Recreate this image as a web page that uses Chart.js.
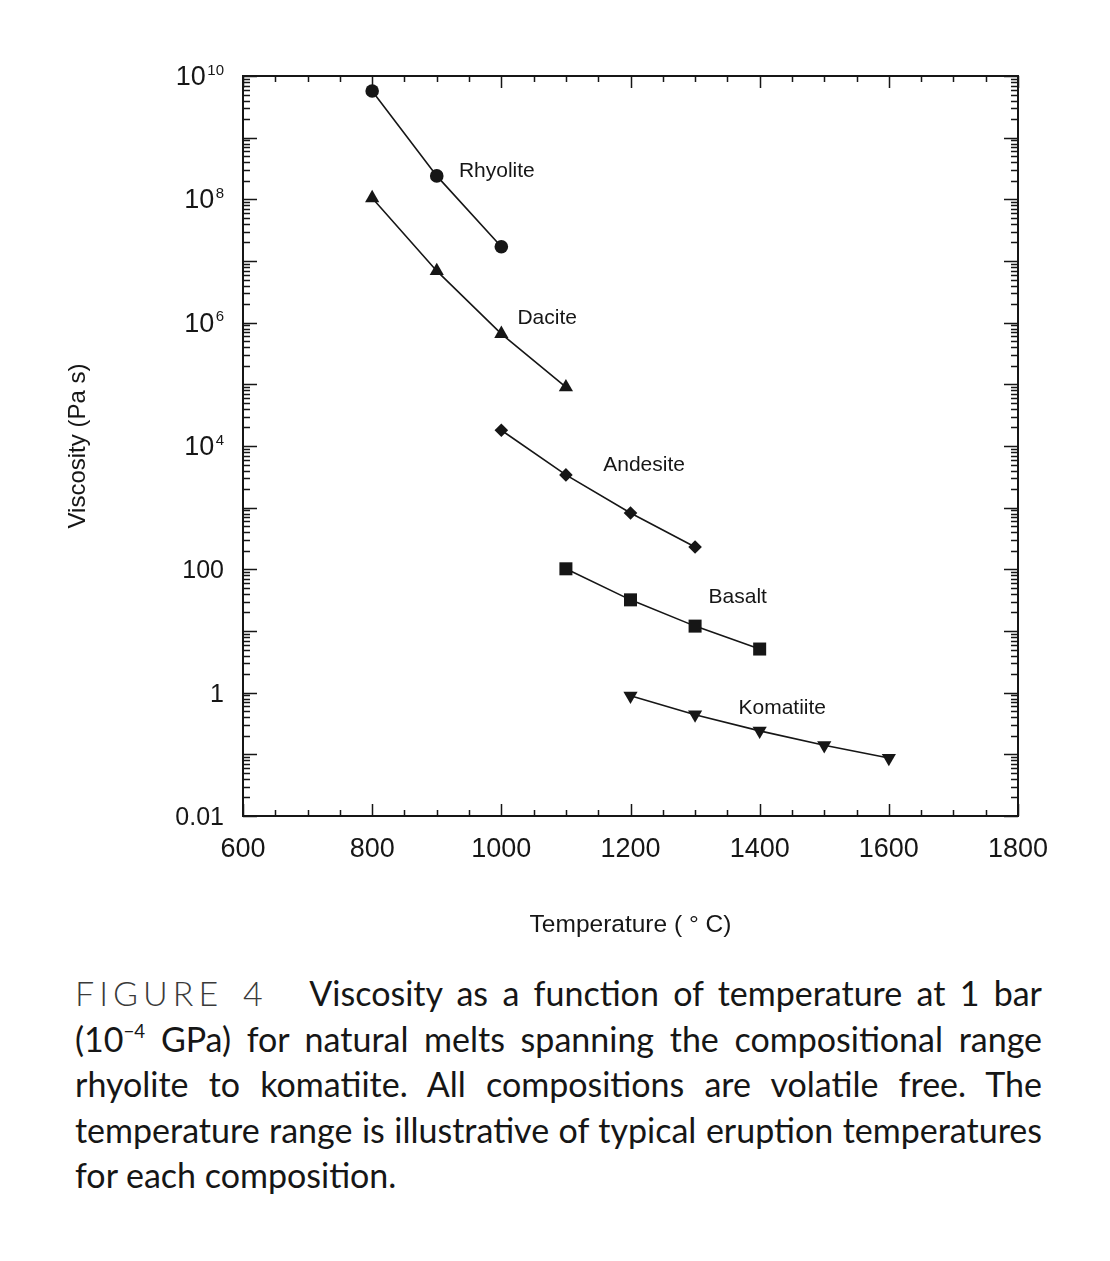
<!DOCTYPE html>
<html><head><meta charset="utf-8">
<script src="https://cdn.jsdelivr.net/npm/chart.js@4/dist/chart.umd.min.js"></script>
<style>
html,body{margin:0;padding:0;background:#fff;}
#wrap{position:relative;width:1110px;height:1261px;overflow:hidden;}
#c{position:absolute;left:0;top:0;}
#cap{position:absolute;left:75px;top:970px;width:967px;font-family:Lato,"Open Sans",sans-serif;font-size:34px;line-height:45.5px;color:#161616;}
.ln{text-align:justify;text-align-last:justify;}
.last{text-align-last:left;}
.fig{letter-spacing:5px;color:#3a3a3a;font-weight:300;}
sup{font-size:55%;line-height:0;vertical-align:0.75em;}
</style></head>
<body><div id="wrap"><canvas id="c" width="1110" height="960"></canvas>
<div id="cap">
<div class="ln"><span class="fig">FIGURE 4</span>&nbsp;&nbsp; Viscosity as a function of temperature at 1 bar</div>
<div class="ln">(10<sup>−4</sup> GPa) for natural melts spanning the compositional range</div>
<div class="ln">rhyolite to komatiite. All compositions are volatile free. The</div>
<div class="ln">temperature range is illustrative of typical eruption temperatures</div>
<div class="ln last">for each composition.</div>
</div></div>
<script>
// ---- data ----
const seriesNames = ['Rhyolite','Dacite','Andesite','Basalt','Komatiite'];
const rhyoliteT = [800, 900, 1000];
const rhyoliteV = [5.7e9, 2.4e8, 1.7e7];
const daciteT = [800, 900, 1000, 1100];
const daciteV = [1.05e8, 6.9e6, 6.6e5, 9.0e4];
const andesiteT = [1000, 1100, 1200, 1300];
const andesiteV = [1.8e4, 3.4e3, 820, 230];
const basaltT = [1100, 1200, 1300, 1400];
const basaltV = [102, 32, 12, 5.1];
const komatiiteT = [1200, 1300, 1400, 1500, 1600];
const komatiiteV = [0.89, 0.44, 0.24, 0.14, 0.087];
// label anchors (data units)
const labelT = [993, 1071, 1221, 1366, 1435];
const labelV = [2.9e8, 1.2e6, 4.9e3, 35, 0.55];
// ticks
const xTickVals = [600, 800, 1000, 1200, 1400, 1600, 1800];
const yTickVals = [0.01, 1, 100, 1e4, 1e6, 1e8, 1e10];
const yTickBase = ['0.01', '1', '100', '10', '10', '10', '10'];
const yTickExp  = ['', '', '', '4', '6', '8', '10'];

const INK = '#161616';
const FONT = "'Liberation Sans', Arial, Helvetica, sans-serif";
const seriesT = [rhyoliteT, daciteT, andesiteT, basaltT, komatiiteT];
const seriesV = [rhyoliteV, daciteV, andesiteV, basaltV, komatiiteV];
const styles = [
  {pointStyle:'circle', radius:6.8, rot:0},
  {pointStyle:'triangle', radius:8.2, rot:0},
  {pointStyle:'rectRot', radius:6.8, rot:0},
  {pointStyle:'rect', radius:9.2, rot:0},
  {pointStyle:'triangle', radius:8.2, rot:180}
];
const datasets = seriesNames.map((n,i)=>({
  label:n,
  data: seriesT[i].map((t,j)=>({x:t, y:seriesV[i][j]})),
  showLine:true, borderColor:INK, backgroundColor:INK, borderWidth:1.6,
  pointStyle:styles[i].pointStyle, pointRadius:styles[i].radius, pointRotation:styles[i].rot,
  pointBorderWidth:0, fill:false, tension:0
}));

const frameTicks = {
  id:'frameTicks',
  afterDraw(chart){
    const {ctx, chartArea:a, scales:{x, y}} = chart;
    ctx.save();
    ctx.strokeStyle = INK; ctx.lineWidth = 2;
    ctx.strokeRect(a.left, a.top, a.right-a.left, a.bottom-a.top);
    ctx.lineWidth = 1.5;
    ctx.beginPath();
    for (let v = 600; v <= 1800; v += 50) {
      const px = Math.round(x.getPixelForValue(v)) + 0.5;
      const len = (v % 200 === 0) ? 12 : 6;
      ctx.moveTo(px, a.bottom); ctx.lineTo(px, a.bottom - len);
      ctx.moveTo(px, a.top); ctx.lineTo(px, a.top + len);
    }
    for (let e = -2; e <= 10; e++) {
      const base = Math.pow(10, e);
      const py = Math.round(y.getPixelForValue(base)) + 0.5;
      ctx.moveTo(a.left, py); ctx.lineTo(a.left + 14, py);
      ctx.moveTo(a.right, py); ctx.lineTo(a.right - 14, py);
      if (e < 10) {
        for (let m = 2; m <= 9; m++) {
          const q = Math.round(y.getPixelForValue(m * base)) + 0.5;
          ctx.moveTo(a.left, q); ctx.lineTo(a.left + 7, q);
          ctx.moveTo(a.right, q); ctx.lineTo(a.right - 7, q);
        }
      }
    }
    ctx.stroke();
    ctx.fillStyle = INK;
    // y tick labels with superscript exponents
    ctx.textBaseline = 'alphabetic'; ctx.textAlign = 'right';
    const rightEdge = a.left - 19;
    yTickVals.forEach((v,i)=>{
      const py = y.getPixelForValue(v);
      let r = rightEdge;
      if (yTickExp[i]) {
        ctx.font = "15px " + FONT;
        ctx.fillText(yTickExp[i], r, py - 1.5);
        r -= ctx.measureText(yTickExp[i]).width + 1.5;
        ctx.font = "27px " + FONT;
      } else {
        ctx.font = "25px " + FONT;
      }
      ctx.fillText(yTickBase[i], r, py + 9);
    });
    // series labels
    ctx.font = "21px " + FONT;
    ctx.textAlign = 'center'; ctx.textBaseline = 'middle';
    seriesNames.forEach((n,i)=>{
      ctx.fillText(n, x.getPixelForValue(labelT[i]), y.getPixelForValue(labelV[i]));
    });
    ctx.restore();
  }
};

new Chart(document.getElementById('c'), {
  type:'line',
  data:{datasets},
  plugins:[frameTicks],
  options:{
    responsive:false, animation:false,
    layout:{padding:{left:0, top:76, right:92, bottom:0}},
    plugins:{legend:{display:false}, tooltip:{enabled:false}},
    scales:{
      x:{
        type:'linear', min:600, max:1800,
        afterBuildTicks(s){ s.ticks = xTickVals.map(v=>({value:v})); },
        ticks:{padding:17, color:INK, font:{family:FONT, size:27}, maxRotation:0, autoSkip:false,
          callback:(v)=>String(v)},
        grid:{display:false, drawTicks:false}, border:{display:false},
        title:{display:true, text:'Temperature ( \u00B0 C)', color:INK, font:{family:FONT, size:24.5}, padding:{top:0, bottom:20}},
        afterFit(s){ s.height = 144; }
      },
      y:{
        type:'logarithmic', min:0.01, max:1e10,
        afterBuildTicks(s){ s.ticks = yTickVals.map(v=>({value:v})); },
        ticks:{display:false},
        grid:{display:false, drawTicks:false}, border:{display:false},
        title:{display:true, text:'Viscosity (Pa s)', color:INK, font:{family:FONT, size:24}, padding:{top:64, bottom:0}},
        afterFit(s){ s.width = 243; }
      }
    }
  }
});
</script>
</body></html>
